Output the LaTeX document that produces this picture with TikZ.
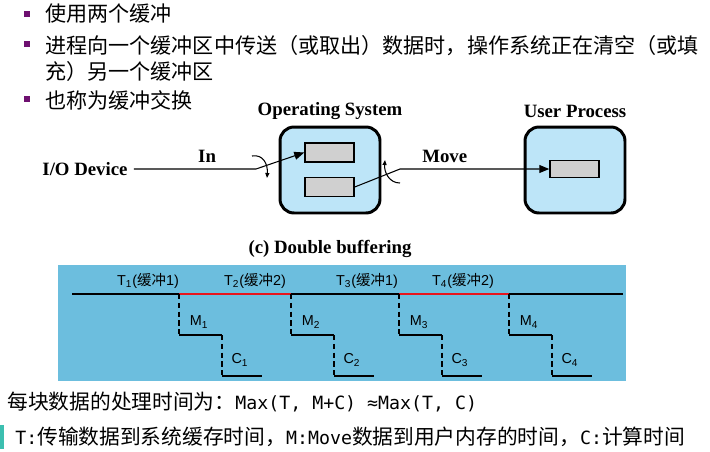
\documentclass[tikz,border=0pt]{standalone}
\usepackage{fontspec}
\setmainfont{Liberation Serif}
\newfontfamily\cjk{Noto Sans CJK SC}
\newfontfamily\helv{Liberation Sans}
\newfontfamily\monolat[Scale=0.88]{DejaVu Sans Mono}
\usetikzlibrary{arrows.meta,positioning}
\definecolor{osblue}{HTML}{BDE5F8}
\definecolor{tlblue}{HTML}{6CBEDE}
\definecolor{bufgray}{HTML}{D0D0D0}
\definecolor{bulletpurple}{HTML}{6E1070}
\definecolor{tlred}{HTML}{E8141C}
\definecolor{barteal}{HTML}{3CBFB0}

\begin{document}
\begin{tikzpicture}[x=0.02cm, y=-0.02cm,
  bullet/.style={rectangle, fill=bulletpurple, inner sep=0pt, minimum size=0.12cm},
  cjktext/.style={anchor=west, inner sep=0pt, font=\cjk\fontsize{12}{14.8}\selectfont, align=left},
  lbl/.style={font=\bfseries\fontsize{10.7}{12}\selectfont},
  procbox/.style={draw=black, line width=1.7pt, fill=osblue, rounded corners=0.28cm, minimum width=2cm, minimum height=1.72cm},
  bufbox/.style={draw=black, line width=0.85pt, fill=bufgray, minimum width=0.98cm, minimum height=0.38cm, inner sep=0pt},
  flow/.style={line width=0.6pt, -{Triangle[length=0.2cm, width=0.16cm]}},
  swap/.style={line width=0.6pt, -{Triangle[length=0.1cm, width=0.08cm]}},
  tline/.style={line width=1.1pt},
  tdash/.style={line width=1.1pt, dash pattern=on 3pt off 2pt},
  tlbl/.style={font=\helv\fontsize{8.2}{10}\selectfont, inner sep=0pt},
  bottomtext/.style={anchor=west, inner sep=0pt, font=\cjk\fontsize{11.8}{14}\selectfont}
]
\useasboundingbox (0,0) rectangle (710,451);

% --- Bullet list ---
\node[bullet] (b1) at (27,14) {};
\node[cjktext] (t1) at (45,14) {使用两个缓冲};
\node[bullet] (b2) at (27,44) {};
\node[cjktext] (t2) at (45,58) {进程向一个缓冲区中传送（或取出）数据时，操作系统正在清空（或填\\充）另一个缓冲区};
\node[bullet] (b3) at (27,99) {};
\node[cjktext] (t3) at (45,100) {也称为缓冲交换};

% --- Double buffering scheme ---
\node[procbox] (os) at (330,170) {};
\node[lbl] (oslbl) at (330,111) {Operating System};
\node[bufbox] (bufA) at (329.5,152.5) {};
\node[bufbox] (bufB) at (329.5,187) {};
\node[procbox] (up) at (575,170) {};
\node[lbl] (uplbl) at (575,111) {User Process};
\node[bufbox, minimum height=0.34cm] (ubuf) at (574.5,169) {};
\node[lbl] (io) at (85,169) {I/O Device};
\coordinate (inbend) at (256,169);
\coordinate (mvbend) at (400,169);
\draw[flow] (io.east) -- node[lbl, above, pos=0.6] {In} (inbend) -- (bufA.west);
\draw[flow] (bufB.east) -- (mvbend) -- node[lbl, above, pos=0.3] {Move} (ubuf.west);
% switching marks
\draw[swap] (252,156) .. controls (263,154) and (268,164) .. (267,178);
\draw[swap] (400,183) .. controls (389,183) and (384,172) .. (385,160);
\node[lbl] (cap) at (330,249) {(c) Double buffering};

% --- Timing chart ---
\fill[tlblue] (58,265) rectangle (626,381);
\draw[tline] (72,294) -- (623,294);
\draw[tline, tlred] (179,294) -- (291,294);
\draw[tline, tlred] (399,294) -- (509,294);
\foreach \i/\s/\t/\c in {1/179/148/1, 2/291/255/2, 3/399/367/1, 4/509/463/2} {
  \node[tlbl] (T\i) at (\t,281) {T\textsubscript{\i}({\cjk 缓冲}\c)};
  \draw[tdash] (\s,294) -- (\s,335);
  \draw[tline] (\s,335) -- (\s+43,335);
  \draw[tdash] (\s+43,335) -- (\s+43,376);
  \draw[tline] (\s+43,376) -- (\s+83,376);
  \node[tlbl] (M\i) at (\s+20,322) {M\textsubscript{\i}};
  \node[tlbl] (C\i) at (\s+61,360) {C\textsubscript{\i}};
}

% --- Notes ---
\node[bottomtext] (eq) at (7,402) {每块数据的处理时间为：{\monolat Max(T, M+C) ≈Max(T, C)}};
\fill[barteal] (0,425) rectangle (4,449);
\node[bottomtext] (note) at (15,437) {{\monolat T:}传输数据到系统缓存时间，{\monolat M:Move}数据到用户内存的时间，{\monolat C:}计算时间};
\end{tikzpicture}
\end{document}
